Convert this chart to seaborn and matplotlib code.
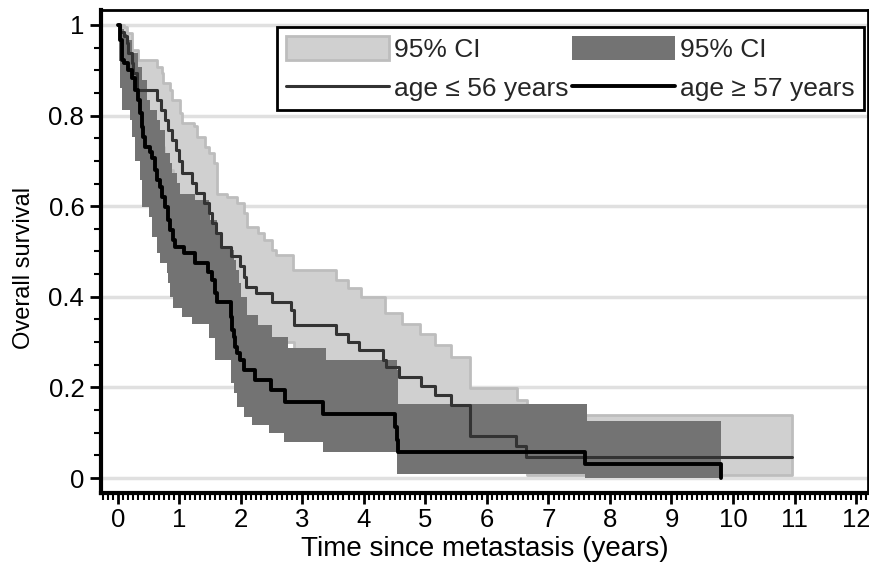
import numpy as np
import matplotlib
matplotlib.use("Agg")
import matplotlib.pyplot as plt
import seaborn as sns
import pandas as pd
from matplotlib.patches import Patch
from matplotlib.lines import Line2D
from matplotlib.ticker import MultipleLocator, FuncFormatter

# ---- data (Kaplan-Meier steps) ----
young_t = [0, 0.04, 0.09, 0.14, 0.17, 0.22, 0.25, 0.31, 0.63, 0.70, 0.77, 0.82, 0.88, 0.94, 0.985, 1.04,
           1.20, 1.27, 1.40, 1.48, 1.53, 1.59, 1.67, 1.83, 1.99, 2.05, 2.075, 2.24, 2.51, 2.81, 2.86,
           3.55, 3.74, 3.92, 4.31, 4.36, 4.57, 4.93, 5.15, 5.42, 5.72, 6.47, 6.64]
young_s = [1.0, 0.985, 0.975, 0.96, 0.937, 0.915, 0.893, 0.857, 0.834, 0.812, 0.79, 0.768, 0.746, 0.723, 0.70, 0.673,
           0.651, 0.629, 0.607, 0.585, 0.563, 0.54, 0.51, 0.49, 0.467, 0.444, 0.422, 0.408, 0.389, 0.371, 0.338,
           0.319, 0.301, 0.283, 0.26, 0.246, 0.224, 0.203, 0.183, 0.161, 0.093, 0.071, 0.047]
young_end = 10.96

young_up_t = [0, 0.09, 0.14, 0.22, 0.33, 0.63, 0.71, 0.74, 0.85, 0.88, 1.01, 1.04, 1.23, 1.29, 1.42, 1.48,
              1.56, 1.61, 1.78, 1.94, 2.05, 2.10, 2.27, 2.37, 2.51, 2.57, 2.84, 3.55, 3.74, 3.95, 4.34, 4.61,
              4.91, 5.15, 5.42, 5.72, 6.49, 6.65]
young_up = [1.0, 0.995, 0.982, 0.945, 0.923, 0.908, 0.893, 0.871, 0.857, 0.834, 0.805, 0.783, 0.776, 0.753, 0.731, 0.717,
            0.695, 0.628, 0.621, 0.606, 0.584, 0.555, 0.540, 0.525, 0.503, 0.492, 0.459, 0.437, 0.419, 0.40, 0.364, 0.341,
            0.319, 0.294, 0.268, 0.198, 0.172, 0.139]
young_lo_t = [0, 0.05, 0.15, 0.3, 0.6, 0.75, 0.9, 1.04, 1.3, 1.53, 1.67, 1.96, 2.05, 2.35, 2.86, 3.57, 3.9,
              4.31, 4.55, 4.93, 5.15, 5.42, 5.72, 6.49, 6.65]
young_lo = [1.0, 0.93, 0.85, 0.76, 0.73, 0.68, 0.62, 0.55, 0.50, 0.44, 0.39, 0.36, 0.33, 0.30, 0.24, 0.21, 0.19,
            0.15, 0.12, 0.11, 0.09, 0.07, 0.03, 0.015, 0.007]

old_t = [0, 0.03, 0.06, 0.09, 0.17, 0.22, 0.28, 0.33, 0.36, 0.39, 0.41, 0.44, 0.52, 0.55, 0.60, 0.63,
         0.69, 0.71, 0.77, 0.82, 0.85, 0.90, 0.93, 1.07, 1.26, 1.47, 1.53, 1.585, 1.61, 1.83, 1.86, 1.88,
         1.91, 1.94, 1.99, 2.05, 2.22, 2.48, 2.71, 3.34, 4.50, 4.53, 4.545, 7.59, 9.81]
old_s = [1.0, 0.967, 0.923, 0.915, 0.90, 0.882, 0.857, 0.834, 0.805, 0.775, 0.753, 0.731, 0.72, 0.706, 0.68, 0.658,
         0.643, 0.621, 0.599, 0.57, 0.547, 0.525, 0.51, 0.496, 0.474, 0.455, 0.437, 0.408, 0.389, 0.356, 0.327, 0.312,
         0.29, 0.275, 0.26, 0.238, 0.216, 0.194, 0.168, 0.141, 0.113, 0.084, 0.058, 0.030, 0.0]
old_end = 9.81

old_up_t = [0, 0.03, 0.09, 0.14, 0.22, 0.33, 0.39, 0.47, 0.52, 0.63, 0.69, 0.77, 0.85, 0.88, 0.96, 1.01,
            1.26, 1.48, 1.50, 1.61, 1.69, 1.83, 1.88, 1.92, 1.96, 2.00, 2.10, 2.27, 2.51, 2.76, 3.38, 4.53,
            4.55, 7.62]
old_up = [1.0, 0.99, 0.98, 0.967, 0.937, 0.908, 0.879, 0.834, 0.812, 0.79, 0.768, 0.717, 0.695, 0.673, 0.651, 0.628,
          0.614, 0.599, 0.57, 0.54, 0.51, 0.503, 0.481, 0.46, 0.43, 0.40, 0.36, 0.338, 0.312, 0.288, 0.26, 0.238,
          0.164, 0.127]
old_lo_t = [0, 0.02, 0.04, 0.06, 0.20, 0.22, 0.28, 0.36, 0.39, 0.50, 0.55, 0.63, 0.69, 0.79, 0.82, 0.85,
            0.90, 1.04, 1.20, 1.48, 1.585, 1.83, 1.88, 1.94, 2.05, 2.18, 2.46, 2.70, 3.33, 4.53, 7.59]
old_lo = [1.0, 0.92, 0.86, 0.812, 0.79, 0.753, 0.70, 0.658, 0.599, 0.577, 0.533, 0.496, 0.474, 0.452, 0.43, 0.40,
          0.375, 0.356, 0.341, 0.308, 0.26, 0.209, 0.187, 0.157, 0.135, 0.117, 0.099, 0.080, 0.058, 0.010, 0.0]

legend_labels = ["95% CI", "age \u2264 56 years", "95% CI", "age \u2265 57 years"]
x_label = "Time since metastasis (years)"
y_label = "Overall survival"

LIGHT = "#d0d0d0"
LIGHT_EDGE = "#bdbdbd"
DARK = "#737373"
YOUNG_C = "#333333"
OLD_C = "#000000"


def step_eval(ts, vs, grid):
    ts = np.asarray(ts, float)
    vs = np.asarray(vs, float)
    idx = np.searchsorted(ts, grid, side="right") - 1
    return vs[np.clip(idx, 0, len(vs) - 1)]


def band(ax, ut, uv, lt, lv, end, **kw):
    grid = np.unique(np.concatenate([ut, lt, [end]]))
    up = step_eval(ut, uv, grid)
    lo = step_eval(lt, lv, grid)
    ax.fill_between(grid, lo, up, step="post", **kw)


sns.set_theme(style="white")
plt.rcParams["font.family"] = ["Liberation Sans", "DejaVu Sans"]

fig = plt.figure(figsize=(8.7, 5.67), dpi=100)
ax = fig.add_axes([101 / 870, 1 - 493 / 567, 767 / 870, 483 / 567])

# gridlines
for yv in [0, 0.2, 0.4, 0.6, 0.8, 1.0]:
    ax.axhline(yv, color="#e0e0e0", lw=2.5, zorder=0)

band(ax, young_up_t, young_up, young_lo_t, young_lo, young_end,
     facecolor=LIGHT, edgecolor=LIGHT_EDGE, linewidth=2, zorder=1)
band(ax, old_up_t, old_up, old_lo_t, old_lo, old_end,
     facecolor=DARK, edgecolor="none", linewidth=0, zorder=2)

young_df = pd.DataFrame({"t": young_t + [young_end], "s": young_s + [young_s[-1]]})
old_df = pd.DataFrame({"t": old_t, "s": old_s})

sns.lineplot(data=young_df, x="t", y="s", drawstyle="steps-post", color=YOUNG_C,
             lw=2.2, ax=ax, zorder=3, estimator=None, sort=False)
sns.lineplot(data=old_df, x="t", y="s", drawstyle="steps-post", color=OLD_C,
             lw=2.8, ax=ax, zorder=4, estimator=None, sort=False)

ax.set_xlim(-0.276, 12.195)
ax.set_ylim(-0.033, 1.033)

ax.xaxis.set_major_locator(MultipleLocator(1))
ax.xaxis.set_minor_locator(MultipleLocator(1 / 12))
ax.yaxis.set_major_locator(MultipleLocator(0.2))
ax.yaxis.set_minor_locator(MultipleLocator(0.05))
ax.yaxis.set_major_formatter(FuncFormatter(lambda v, p: f"{round(v, 2):g}"))

ax.tick_params(axis="both", which="major", direction="out", length=8, width=2,
               labelsize=18.5, color="black", labelcolor="black", bottom=True, left=True)
ax.tick_params(axis="both", which="minor", direction="out", length=5, width=1.5,
               color="black", bottom=True, left=True)
ax.tick_params(axis="x", which="major", pad=3)
ax.tick_params(axis="y", which="major", pad=4)

for side in ["left", "bottom"]:
    ax.spines[side].set_visible(True)
    ax.spines[side].set_color("black")
    ax.spines[side].set_linewidth(3)
for side in ["right", "top"]:
    ax.spines[side].set_visible(True)
    ax.spines[side].set_color("black")
    ax.spines[side].set_linewidth(2)

ax.set_xlabel(x_label, fontsize=20, color="black", labelpad=3)
ax.set_ylabel(y_label, fontsize=17, color="black")
ax.yaxis.set_label_coords(-0.086, 0.465)

handles = [
    Patch(facecolor=LIGHT, edgecolor=LIGHT_EDGE, linewidth=2),
    Line2D([], [], color=YOUNG_C, lw=2.2),
    Patch(facecolor=DARK, edgecolor="none"),
    Line2D([], [], color=OLD_C, lw=2.8),
]
labels = [legend_labels[0], legend_labels[1], legend_labels[2], legend_labels[3]]
leg = ax.legend(handles, labels, ncol=2, loc="upper left", mode="expand",
                bbox_to_anchor=(0.229, 0.793, 0.766, 0.172), borderaxespad=0, fontsize=19,
                handlelength=3.9, handleheight=1.0, handletextpad=0.2, columnspacing=0.2,
                labelspacing=0.5, borderpad=0.35, fancybox=False, framealpha=1,
                edgecolor="black")
leg.get_frame().set_linewidth(2)
leg.set_zorder(10)

fig.savefig("out.png", dpi=100)
